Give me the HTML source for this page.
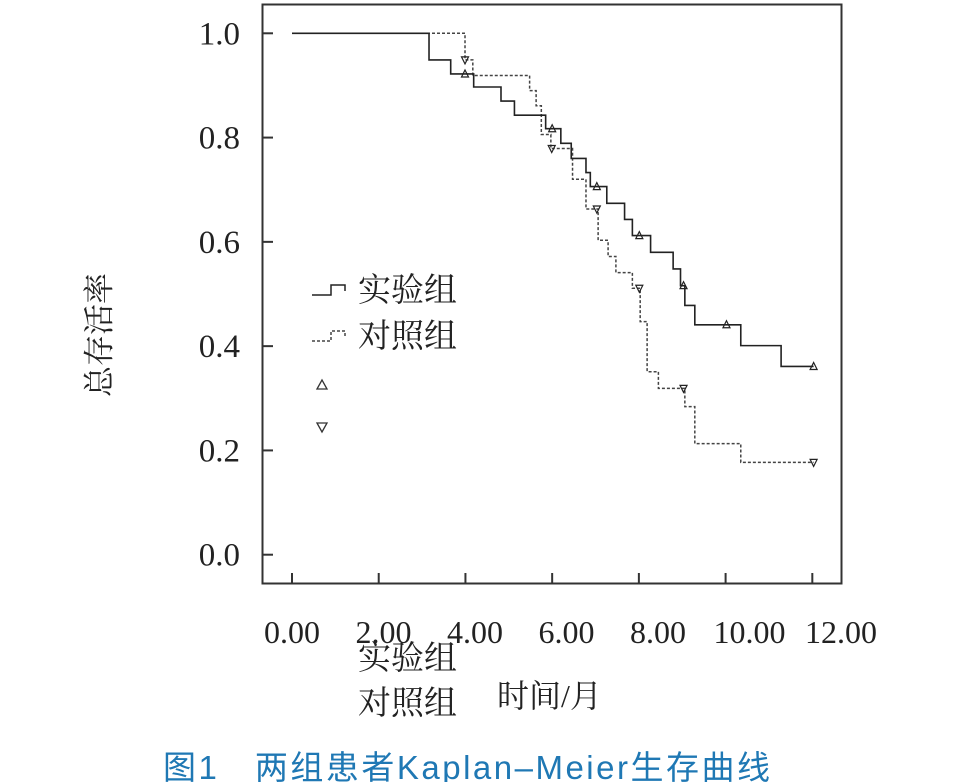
<!DOCTYPE html>
<html><head><meta charset="utf-8"><style>
body{margin:0;background:#fff;width:961px;height:782px;overflow:hidden}
svg{display:block}
.ser{font-family:"Liberation Serif","Noto Serif CJK SC",serif;fill:#222}
.cjk{font-family:"Liberation Serif","Noto Serif CJK SC",serif;fill:#222}
</style></head><body>
<svg id="chart" width="961" height="782">
<rect x="262.5" y="4.5" width="579" height="579" fill="none" stroke="#333" stroke-width="2"/>
<g id="axes"></g>
<g id="series"></g>
<g>
<path d="M312,295 H331 V285 H345 V291" fill="none" stroke="#222" stroke-width="1.5"/>
<text x="358" y="301" class="cjk" font-size="33">实验组</text>
<path d="M312,341 H331 V331 H345 V337" fill="none" stroke="#444" stroke-width="1.5" stroke-dasharray="3,2"/>
<text x="358" y="347" class="cjk" font-size="33">对照组</text>
<path d="M317,389 L322,380 L327,389 Z" fill="none" stroke="#333" stroke-width="1.3"/>
<path d="M317,423 L322,432 L327,423 Z" fill="none" stroke="#333" stroke-width="1.3"/>
</g>
<text x="110" y="335" class="cjk" font-size="31" text-anchor="middle" transform="rotate(-90 110 335)">总存活率</text>
<text x="358" y="669" class="cjk" font-size="33">实验组</text>
<text x="358" y="714" class="cjk" font-size="33">对照组</text>
<text x="497" y="707" class="cjk" font-size="32">时间/月</text>
<text x="163" y="779" font-family="'Liberation Sans','Noto Sans CJK SC',sans-serif" font-size="33" letter-spacing="2.5" fill="#1f78b4">图1　两组患者Kaplan–Meier生存曲线</text>
</svg>
<script>
const xTicks=[0,2,4,6,8,10,12];
const xTickLabels=["0.00","2.00","4.00","6.00","8.00","10.00","12.00"];
const yTicks=[0,0.2,0.4,0.6,0.8,1.0];
const yTickLabels=["0.0","0.2","0.4","0.6","0.8","1.0"];
const expTimes=[0,3.16,3.66,4.19,4.82,5.13,5.85,6.20,6.44,6.78,6.88,7.26,7.67,7.85,8.27,8.79,8.96,9.06,9.29,10.35,11.28,12.03];
const expSurv=[1,0.949,0.922,0.897,0.870,0.843,0.817,0.789,0.760,0.733,0.706,0.674,0.643,0.612,0.580,0.548,0.516,0.478,0.441,0.401,0.361,0.361];
const expCensT=[3.99,6.0,7.03,8.01,9.03,10.02,12.03];
const ctrlTimes=[0,3.99,4.17,5.48,5.63,5.75,5.97,6.47,6.78,7.06,7.29,7.47,7.85,8.03,8.19,8.45,9.06,9.29,10.35,12.03];
const ctrlSurv=[1,0.949,0.919,0.890,0.861,0.806,0.779,0.720,0.663,0.603,0.572,0.541,0.511,0.447,0.351,0.319,0.284,0.213,0.177,0.177];
const ctrlCensT=[3.99,5.99,7.03,8.01,9.03,12.03];
const NS="http://www.w3.org/2000/svg";
const X=t=>292+t*43.36;
const XL=t=>292+t*45.75;
const Y=v=>554.7-v*521.4;
function mk(tag,attrs,parent){const e=document.createElementNS(NS,tag);for(const k in attrs)e.setAttribute(k,attrs[k]);parent.appendChild(e);return e;}
const ax=document.getElementById('axes');
xTicks.forEach((t,i)=>{
 const l=mk('line',{x1:X(t),x2:X(t),y1:583,y2:573,stroke:'#333','stroke-width':2},ax);
 
 
 const tx=mk('text',{x:XL(t),y:643,'text-anchor':'middle','font-size':32,class:'ser'},ax);
 tx.textContent=xTickLabels[i];
 
 
});
yTicks.forEach((v,i)=>{
 const l=mk('line',{x1:263,x2:273,y1:Y(v),y2:Y(v),stroke:'#333','stroke-width':2},ax);
 
 
 const tx=mk('text',{x:240,y:Y(v)+11,'text-anchor':'end','font-size':33,class:'ser'},ax);
 tx.textContent=yTickLabels[i];
 
 
});
function stepPath(ts,vs){let d='M'+X(ts[0])+','+Y(vs[0]);for(let i=1;i<ts.length;i++){d+=' H'+X(ts[i])+' V'+Y(vs[i]);}return d;}
function survAt(ts,vs,t){let v=vs[0];for(let i=0;i<ts.length;i++){if(ts[i]<=t+1e-9)v=vs[i];}return v;}
const sg=document.getElementById('series');
const p1=mk('path',{d:stepPath(ctrlTimes,ctrlSurv),fill:'none',stroke:'#444','stroke-width':1.5,'stroke-dasharray':'3,2'},sg);


const p2=mk('path',{d:stepPath(expTimes,expSurv),fill:'none',stroke:'#222','stroke-width':1.6},sg);


expCensT.forEach(t=>{const x=X(t),y=Y(survAt(expTimes,expSurv,t));
 const m=mk('path',{d:`M${x-3.5},${y+3} L${x},${y-4} L${x+3.5},${y+3} Z`,fill:'none',stroke:'#222','stroke-width':1.2},sg);
 
 });
ctrlCensT.forEach(t=>{const x=X(t),y=Y(survAt(ctrlTimes,ctrlSurv,t));
 const m=mk('path',{d:`M${x-3.5},${y-3} L${x},${y+4} L${x+3.5},${y-3} Z`,fill:'none',stroke:'#222','stroke-width':1.2},sg);
 
 });
</script>
</body></html>
